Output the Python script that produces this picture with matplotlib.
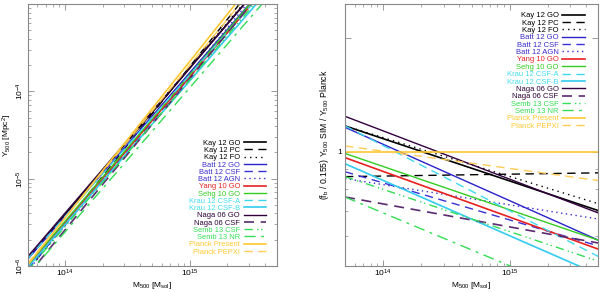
import matplotlib
matplotlib.use("Agg")
import matplotlib.pyplot as plt
import numpy as np
from matplotlib.ticker import LogLocator, NullFormatter, FixedLocator, FixedFormatter

plt.rcParams['font.family'] = ['Liberation Sans', 'DejaVu Sans']
plt.rcParams['mathtext.fontset'] = 'custom'
plt.rcParams['mathtext.rm'] = 'Liberation Sans'
plt.rcParams['mathtext.it'] = 'Liberation Sans'

# ---- data ----
mass_edges = [5e13, 5e15]                 # M500 [M_sol] at the panel edges
planck_Y_edges = [1.03e-6, 3.9e-3]        # Planck Y500 [Mpc^2] at those masses

labels = ["Kay 12 GO", "Kay 12 PC", "Kay 12 FO",
          "Batt 12 GO", "Batt 12 CSF", "Batt 12 AGN",
          "Yang 10 GO", "Sehg 10 GO",
          "Krau 12 CSF-A", "Krau 12 CSF-B",
          "Naga 06 GO", "Naga 06 CSF",
          "Semb 13 CSF", "Semb 13 NR",
          "Planck Present", "Planck PEPXI"]

ratio_low = [1.17, 0.86, 1.17, 1.16, 0.886, 0.85, 0.965, 0.99, 1.17, 0.93,
             1.24, 0.76, 0.86, 0.76, 1.0, 1.036]
ratio_high = [0.70, 0.88, 0.73, 0.585, 0.565, 0.665, 0.554, 0.585, 0.53, 0.475,
              0.69, 0.575, 0.515, 0.40, 1.0, 0.84]

line_colors = ["#000000", "#000000", "#000000",
               "#2b22c8", "#3a30d8", "#3a30d0",
               "#e82020", "#33cc22",
               "#40d8ee", "#33ccee",
               "#32003f", "#5a2a70",
               "#33dd55", "#33dd55",
               "#ffc830", "#ffcc55"]
text_colors = ["#000000", "#000000", "#000000",
               "#3a2ccc", "#3a2ccc", "#3a2ccc",
               "#e82020", "#33cc22",
               "#44ddee", "#44ddee",
               "#2a0035", "#2a0035",
               "#33dd55", "#33dd55",
               "#ffc830", "#ffc830"]
styles = ["-", (0, (6, 4)), (0, (1, 3)),
          "-", (0, (6, 4)), (0, (1, 2.5)),
          "-", "-",
          (0, (6, 4)), "-",
          "-", (0, (6, 4)),
          (0, (6, 3, 1, 2, 1, 3)), (0, (8, 4, 2, 4)),
          "-", (0, (6, 4))]
widths = [1.2, 1.0, 1.0, 1.0, 1.0, 1.0, 1.2, 1.0, 1.0, 1.2, 1.0, 1.2, 1.0, 1.0, 1.2, 1.0]

fig = plt.figure(figsize=(6.0, 2.92), dpi=100)
axL = fig.add_axes([0.046, 0.089, 0.415, 0.897])
axR = fig.add_axes([0.575, 0.089, 0.422, 0.897])

spine_col = "#888888"

for i, lab in enumerate(labels):
    yL = [ratio_low[i] * planck_Y_edges[0], ratio_high[i] * planck_Y_edges[1]]
    axL.plot(mass_edges, yL, color=line_colors[i], ls=styles[i], lw=widths[i], label=lab)
    axR.plot(mass_edges, [ratio_low[i], ratio_high[i]], color=line_colors[i],
             ls=styles[i], lw=widths[i], label=lab)

for ax in (axL, axR):
    ax.set_xscale("log")
    ax.set_yscale("log")
    ax.set_xlim(5e13, 5e15)
    for s in ax.spines.values():
        s.set_color(spine_col)
        s.set_linewidth(0.8)
    ax.tick_params(which="both", direction="in", top=True, right=True,
                   colors=spine_col, labelcolor="black", labelsize=6)
    ax.tick_params(which="major", length=4, width=0.6)
    ax.tick_params(which="minor", length=2, width=0.5)
    ax.xaxis.set_major_locator(FixedLocator([1e14, 1e15]))
    ax.xaxis.set_major_formatter(FixedFormatter([r"$10^{14}$", r"$10^{15}$"]))
    ax.xaxis.set_minor_locator(LogLocator(base=10, subs=np.arange(2, 10)))
    ax.xaxis.set_minor_formatter(NullFormatter())
    ax.set_xlabel(r"M$_{500}$ [M$_{\rm sol}$]", fontsize=6, labelpad=0.5)
    ax.xaxis.set_tick_params(pad=1.5)

axL.set_ylim(1e-6, 1e-3)
axL.yaxis.set_major_locator(FixedLocator([1e-6, 1e-5, 1e-4]))
axL.yaxis.set_major_formatter(FixedFormatter([r"$10^{-6}$", r"$10^{-5}$", r"$10^{-4}$"]))
axL.yaxis.set_minor_locator(LogLocator(base=10, subs=np.arange(2, 10)))
axL.yaxis.set_minor_formatter(NullFormatter())
for t in axL.get_yticklabels():
    t.set_rotation(90)
    t.set_va("center")
axL.tick_params(axis="y", pad=1.5)
axL.set_ylabel(r"Y$_{500}$ [Mpc$^2$]", fontsize=6, labelpad=0.5)

axR.set_ylim(0.5, 2.45)
axR.yaxis.set_major_locator(FixedLocator([1.0, 2.0]))
axR.yaxis.set_major_formatter(FixedFormatter(["1", ""]))
axR.yaxis.set_minor_locator(FixedLocator([0.5, 0.6, 0.7, 0.8, 0.9]))
axR.yaxis.set_minor_formatter(NullFormatter())
axR.tick_params(axis="y", pad=2)
axR.set_ylabel(r"(f$_b$ / 0.155) Y$_{500}$ SIM / Y$_{500}$ Planck", fontsize=6.2, labelpad=5)

legL = axL.legend(loc="lower right", bbox_to_anchor=(0.98, 0.02), fontsize=5.4,
                  frameon=False, markerfirst=False, handlelength=3.0,
                  labelspacing=0.0, handletextpad=0.5, borderpad=0.2)
legR = axR.legend(loc="upper right", bbox_to_anchor=(0.97, 0.99), fontsize=5.5,
                  frameon=False, markerfirst=False, handlelength=3.0,
                  labelspacing=0.0, handletextpad=0.5, borderpad=0.2)
for leg in (legL, legR):
    for txt, c in zip(leg.get_texts(), text_colors):
        txt.set_color(c)

fig.savefig("out.png", dpi=100)
